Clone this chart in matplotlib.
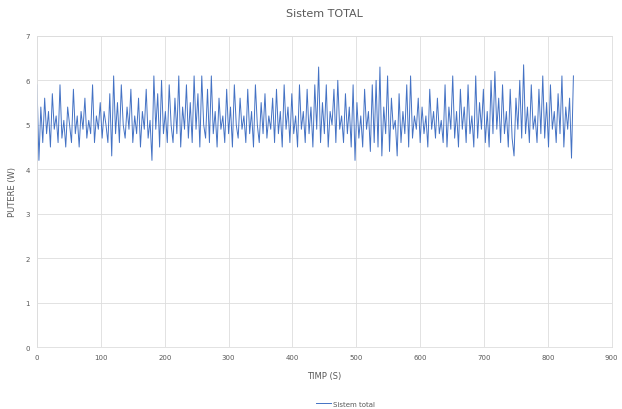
import matplotlib.pyplot as plt

plt.rcParams['font.family'] = ['Liberation Sans Narrow', 'DejaVu Sans']

# time in seconds, one reading every 3 s
time_s = list(range(0, 841, 3))
power_w = [
    5.9, 4.2, 5.4, 4.6, 5.6, 4.8, 5.3, 4.5, 5.7, 4.9,
    5.2, 4.6, 5.9, 4.7, 5.1, 4.5, 5.4, 5.0, 4.6, 5.8,
    4.8, 5.2, 4.5, 5.3, 4.9, 5.6, 4.7, 5.1, 4.8, 5.9,
    4.6, 5.2, 4.9, 5.5, 4.7, 5.3, 5.0, 4.6, 5.7, 4.3,
    6.1, 4.8, 5.5, 4.6, 5.9, 5.0, 4.7, 5.4, 4.9, 5.8,
    4.6, 5.2, 4.8, 5.6, 4.5, 5.3, 4.9, 5.8, 4.7, 5.1,
    4.2, 6.1, 4.9, 5.7, 4.5, 6.0, 4.8, 5.3, 4.6, 5.9,
    5.0, 4.6, 5.6, 4.8, 6.1, 4.5, 5.4, 4.9, 5.9, 4.7,
    5.5, 4.6, 6.1, 4.9, 5.7, 4.5, 6.1, 5.0, 4.7, 5.8,
    4.6, 6.1, 4.8, 5.3, 4.5, 5.6, 4.9, 5.2, 4.6, 5.8,
    4.8, 5.4, 4.5, 5.9, 5.0, 4.7, 5.6, 4.9, 5.2, 4.6,
    5.8, 4.8, 5.3, 4.5, 5.9, 5.0, 4.6, 5.5, 4.8, 5.7,
    4.7, 5.2, 4.9, 5.6, 4.6, 5.8, 4.8, 5.3, 4.5, 5.9,
    4.9, 5.4, 4.6, 5.7, 4.8, 5.2, 4.5, 5.9, 4.9, 5.3,
    4.6, 5.8, 4.8, 5.4, 4.5, 5.9, 4.9, 6.3, 4.6, 5.5,
    4.8, 5.9, 4.5, 5.3, 5.0, 5.8, 4.6, 6.0, 4.9, 5.2,
    4.6, 5.7, 4.8, 5.4, 4.5, 5.9, 4.2, 5.5, 4.7, 5.2,
    4.5, 5.8, 4.9, 5.3, 4.4, 5.9, 4.6, 6.0, 4.5, 6.3,
    4.3, 5.4, 4.8, 6.1, 4.4, 5.6, 4.9, 5.1, 4.3, 5.7,
    4.6, 5.3, 4.8, 5.9, 4.5, 6.1, 4.7, 5.2, 4.9, 5.6,
    4.6, 5.4, 4.8, 5.2, 4.5, 5.8, 4.9, 5.3, 4.7, 5.6,
    4.8, 5.1, 4.6, 5.9, 4.5, 5.4, 4.9, 6.1, 4.7, 5.3,
    4.5, 5.8, 4.9, 5.4, 4.6, 5.9, 4.8, 5.2, 4.5, 6.1,
    4.7, 5.5, 4.9, 5.8, 4.6, 5.3, 4.5, 6.0, 4.8, 6.2,
    4.9, 5.6, 4.6, 5.9, 4.8, 5.3, 4.5, 5.8, 4.7, 4.3,
    5.6, 4.9, 6.0, 4.7, 6.35, 4.8, 5.4, 4.6, 5.9, 4.9,
    5.2, 4.6, 5.8, 4.8, 6.1, 4.7, 5.5, 4.5, 5.9, 4.9,
    5.3, 4.6, 5.7, 4.8, 6.1, 4.5, 5.4, 4.9, 5.6, 4.25,
    6.1,
]

x_ticks = [0, 100, 200, 300, 400, 500, 600, 700, 800, 900]
y_ticks = [0, 1, 2, 3, 4, 5, 6, 7]

grey = '#595959'

fig = plt.figure(figsize=(6.22, 4.10), dpi=100)
ax = fig.add_axes([0.0595, 0.151, 0.924, 0.759])

ax.plot(time_s, power_w, color='#4472C4', linewidth=0.7, label='Sistem total')

ax.set_xlim(0, 900)
ax.set_ylim(0, 7)
ax.set_xticks(x_ticks)
ax.set_yticks(y_ticks)
ax.grid(True, color='#DDDDDD', linewidth=0.6)
ax.set_axisbelow(True)
for side in ['top', 'right', 'left', 'bottom']:
    ax.spines[side].set_color('#DDDDDD')
    ax.spines[side].set_linewidth(0.6)
ax.tick_params(axis='both', length=0, labelsize=5, labelcolor=grey, pad=5)

ax.set_title('Sistem TOTAL', fontsize=8, color=grey, pad=14)
ax.set_xlabel('TIMP (S)', fontsize=6, color=grey, labelpad=8)
ax.set_ylabel('PUTERE (W)', fontsize=6, color=grey, labelpad=6)

fig.legend(loc='lower center', bbox_to_anchor=(0.555, -0.01), frameon=False,
           fontsize=5, labelcolor=grey, handlelength=2.2, handletextpad=0.3)

plt.savefig('out.png', dpi=100)
plt.close()
